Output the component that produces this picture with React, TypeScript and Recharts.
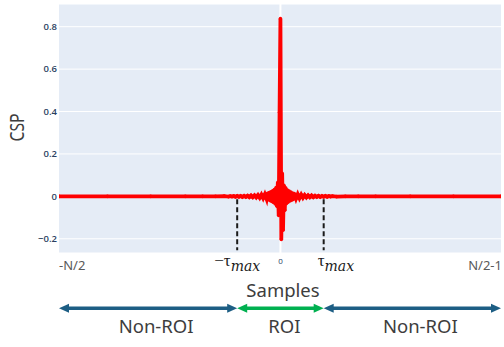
import React from 'react';
import { LineChart, Line, XAxis, YAxis, CartesianGrid, ReferenceLine } from 'recharts';

// Cross-correlation (CSP) vs lag samples, N = 512  (-N/2 .. N/2-1)
const lags = [
  -256, -200, -150, -110, -90, -75, -65,
  -60, -58, -56, -54, -52, -50, -48, -46, -44, -42, -40, -38, -36, -34, -32, -30, -28, -26, -24, -22, -20, -18, -16,
  -15, -14, -13, -12, -11, -10, -9, -8, -7, -6, -5, -4, -3, -2, -1,
  0,
  1, 2, 3, 4, 5, 6, 7, 8, 9, 10, 11, 12, 13, 14, 15,
  16, 18, 20, 22, 24, 26, 28, 30, 32, 34, 36, 38, 40, 42, 44, 46, 48, 50, 52, 54, 56, 58, 60,
  65, 75, 90, 110, 150, 200, 255,
];
const cspValues = [
  0, 0, 0, 0, 0, 0, 0.001,
  -0.001, 0.001, -0.001, 0.002, -0.002, 0.002, -0.002, 0.002, -0.003, 0.003, -0.003, 0.003, -0.004, 0.004, -0.004, 0.005, -0.005, 0.006, -0.007, 0.008, -0.009, 0.01, -0.012,
  0.014, -0.016, 0.018, -0.02, 0.022, -0.024, 0.026, -0.029, 0.032, -0.036, 0.041, -0.047, 0.066, -0.09, 0.397,
  0.838,
  -0.203, 0.109, -0.16, 0.052, -0.066, 0.04, -0.034, 0.03, -0.027, 0.025, -0.022, 0.02, -0.018, 0.016, -0.014,
  0.013, -0.011, 0.01, -0.009, 0.008, -0.007, 0.006, -0.005, 0.005, -0.004, 0.004, -0.004, 0.003, -0.003, 0.003, -0.003, 0.002, -0.002, 0.002, -0.002, 0.002, -0.001, 0.001,
  -0.001, 0, 0, 0, 0, 0, 0,
];

const X_MIN = -256;
const X_MAX = 255;
const TAU_MAX = 50;
const xTicks = [X_MIN, -TAU_MAX, 0, TAU_MAX, X_MAX];
const yTicks = [-0.2, 0, 0.2, 0.4, 0.6, 0.8];
const Y_DOMAIN = [-0.267, 0.907];

const regionLabels = ['Non-ROI', 'ROI', 'Non-ROI'];
const regionStarts = [X_MIN, -TAU_MAX, TAU_MAX];
const regionEnds = [-TAU_MAX, TAU_MAX, X_MAX];
const regionColors = ['#1d5e84', '#00b050', '#1d5e84'];
const regionLabelShift = [8, 4, 8];
const ARROW_LEVEL = -0.527;
const TAU_LINE_TOP = -0.013;
const TAU_LINE_BOTTOM = -0.254;

const data = lags.map((lag, i) => ({ lag, csp: cspValues[i] }));

const XTick = (props: any) => {
  const { x, y, payload } = props;
  const v = payload.value;
  if (v === X_MIN) {
    return (
      <text x={x} y={y + 17} textAnchor="start" fontSize={13} fill="#595959" fontFamily="Noto Sans">-N/2</text>
    );
  }
  if (v === X_MAX) {
    return (
      <text x={x + 1} y={y + 17} textAnchor="end" fontSize={13} fill="#595959" fontFamily="Noto Sans">N/2-1</text>
    );
  }
  if (v === 0) {
    return (
      <text x={x} y={y + 11} textAnchor="middle" fontSize={8} fill="#2a3f5f" fontFamily="Open Sans">0</text>
    );
  }
  const neg = v < 0;
  return (
    <text x={neg ? x : x - 6} y={y + 13} textAnchor={neg ? 'middle' : 'start'} fill="#1a1a1a">
      <tspan fontFamily="Liberation Serif" fontSize={17}>{neg ? '\u2212\u03c4' : '\u03c4'}</tspan>
      <tspan fontFamily="DejaVu Serif" fontStyle="italic" fontSize={14} dy={5}>max</tspan>
    </text>
  );
};

const makeArrow = (color: string, label: string, shift: number) => (p: any) => {
  const { x1, y1, x2 } = p;
  const y = y1;
  const L = 10;
  const H = 4.5;
  return (
    <g>
      <line x1={x1 + L - 1} y1={y} x2={x2 - L + 1} y2={y} stroke={color} strokeWidth={3.5} />
      <polygon points={`${x1},${y} ${x1 + L},${y - H} ${x1 + L},${y + H}`} fill={color} />
      <polygon points={`${x2},${y} ${x2 - L},${y - H} ${x2 - L},${y + H}`} fill={color} />
      <text x={(x1 + x2) / 2 + shift} y={y + 25} textAnchor="middle" fontSize={18.5} fill="#3d3d3d" fontFamily="Noto Sans">{label}</text>
    </g>
  );
};

const yFmt = (v: number) => (v === 0 ? '0' : v < 0 ? '\u2212' + Math.abs(v) : String(v));

export default function App() {
  return (
    <div style={{ position: 'absolute', left: 0, top: 0, width: 504, height: 347, background: '#fff' }}>
      <LineChart width={504} height={347} data={data} margin={{ top: 4, right: 3, left: 0, bottom: 0 }}>
        <CartesianGrid fill="#E5ECF6" fillOpacity={1} stroke="#ffffff" strokeWidth={1} vertical={false} />
        <XAxis
          dataKey="lag"
          type="number"
          domain={[X_MIN, X_MAX]}
          ticks={xTicks}
          interval={0}
          height={94}
          tickLine={false}
          axisLine={false}
          tickSize={0}
          tickMargin={0}
          tick={<XTick />}
          allowDataOverflow
          label={{
            content: (lp: any) => {
              const vb = lp.viewBox || { x: 59, y: 253, width: 442, height: 94 };
              return (
                <text x={vb.x + vb.width / 2 + 3} y={vb.y + 44} textAnchor="middle" fontSize={18.5} fill="#3d3d3d" fontFamily="Noto Sans">Samples</text>
              );
            },
          }}
        />
        <YAxis
          type="number"
          domain={Y_DOMAIN}
          ticks={yTicks}
          width={59}
          tickLine={false}
          axisLine={false}
          tickSize={0}
          tickMargin={2}
          allowDataOverflow
          interval={0}
          tickFormatter={yFmt}
          tick={{ fontSize: 9.5, fill: '#2a3f5f', fontFamily: 'Open Sans', fontWeight: 600 }}
          label={{
            content: (lp: any) => {
              const vb = lp.viewBox || { x: 0, y: 4, width: 59, height: 249 };
              const cy = vb.y + vb.height / 2 - 1;
              return (
                <text x={24} y={cy} transform={`rotate(-90 24 ${cy})`} textAnchor="middle" fontSize={19} fill="#3d3d3d" fontFamily="Noto Sans" textLength={28} lengthAdjust="spacingAndGlyphs">CSP</text>
              );
            },
          }}
        />
        <ReferenceLine x={0} stroke="#ffffff" strokeWidth={2} />
        <ReferenceLine
          segment={[{ x: -TAU_MAX, y: TAU_LINE_TOP }, { x: -TAU_MAX, y: TAU_LINE_BOTTOM }]}
          stroke="#1a1a1a"
          strokeWidth={2}
          strokeDasharray="5 3"
          ifOverflow="visible"
        />
        <ReferenceLine
          segment={[{ x: TAU_MAX, y: TAU_LINE_TOP }, { x: TAU_MAX, y: TAU_LINE_BOTTOM }]}
          stroke="#1a1a1a"
          strokeWidth={2}
          strokeDasharray="5 3"
          ifOverflow="visible"
        />
        <Line
          type="linear"
          dataKey="csp"
          stroke="#ff0000"
          strokeWidth={3.8}
          dot={{ r: 1.8, fill: '#ff0000', stroke: 'none' }}
          activeDot={false}
          isAnimationActive={false}
        />
        {regionLabels.map((lab, i) => (
          <ReferenceLine
            key={i}
            segment={[{ x: regionStarts[i], y: ARROW_LEVEL }, { x: regionEnds[i], y: ARROW_LEVEL }]}
            ifOverflow="visible"
            shape={makeArrow(regionColors[i], lab, regionLabelShift[i])}
          />
        ))}
      </LineChart>
    </div>
  );
}
